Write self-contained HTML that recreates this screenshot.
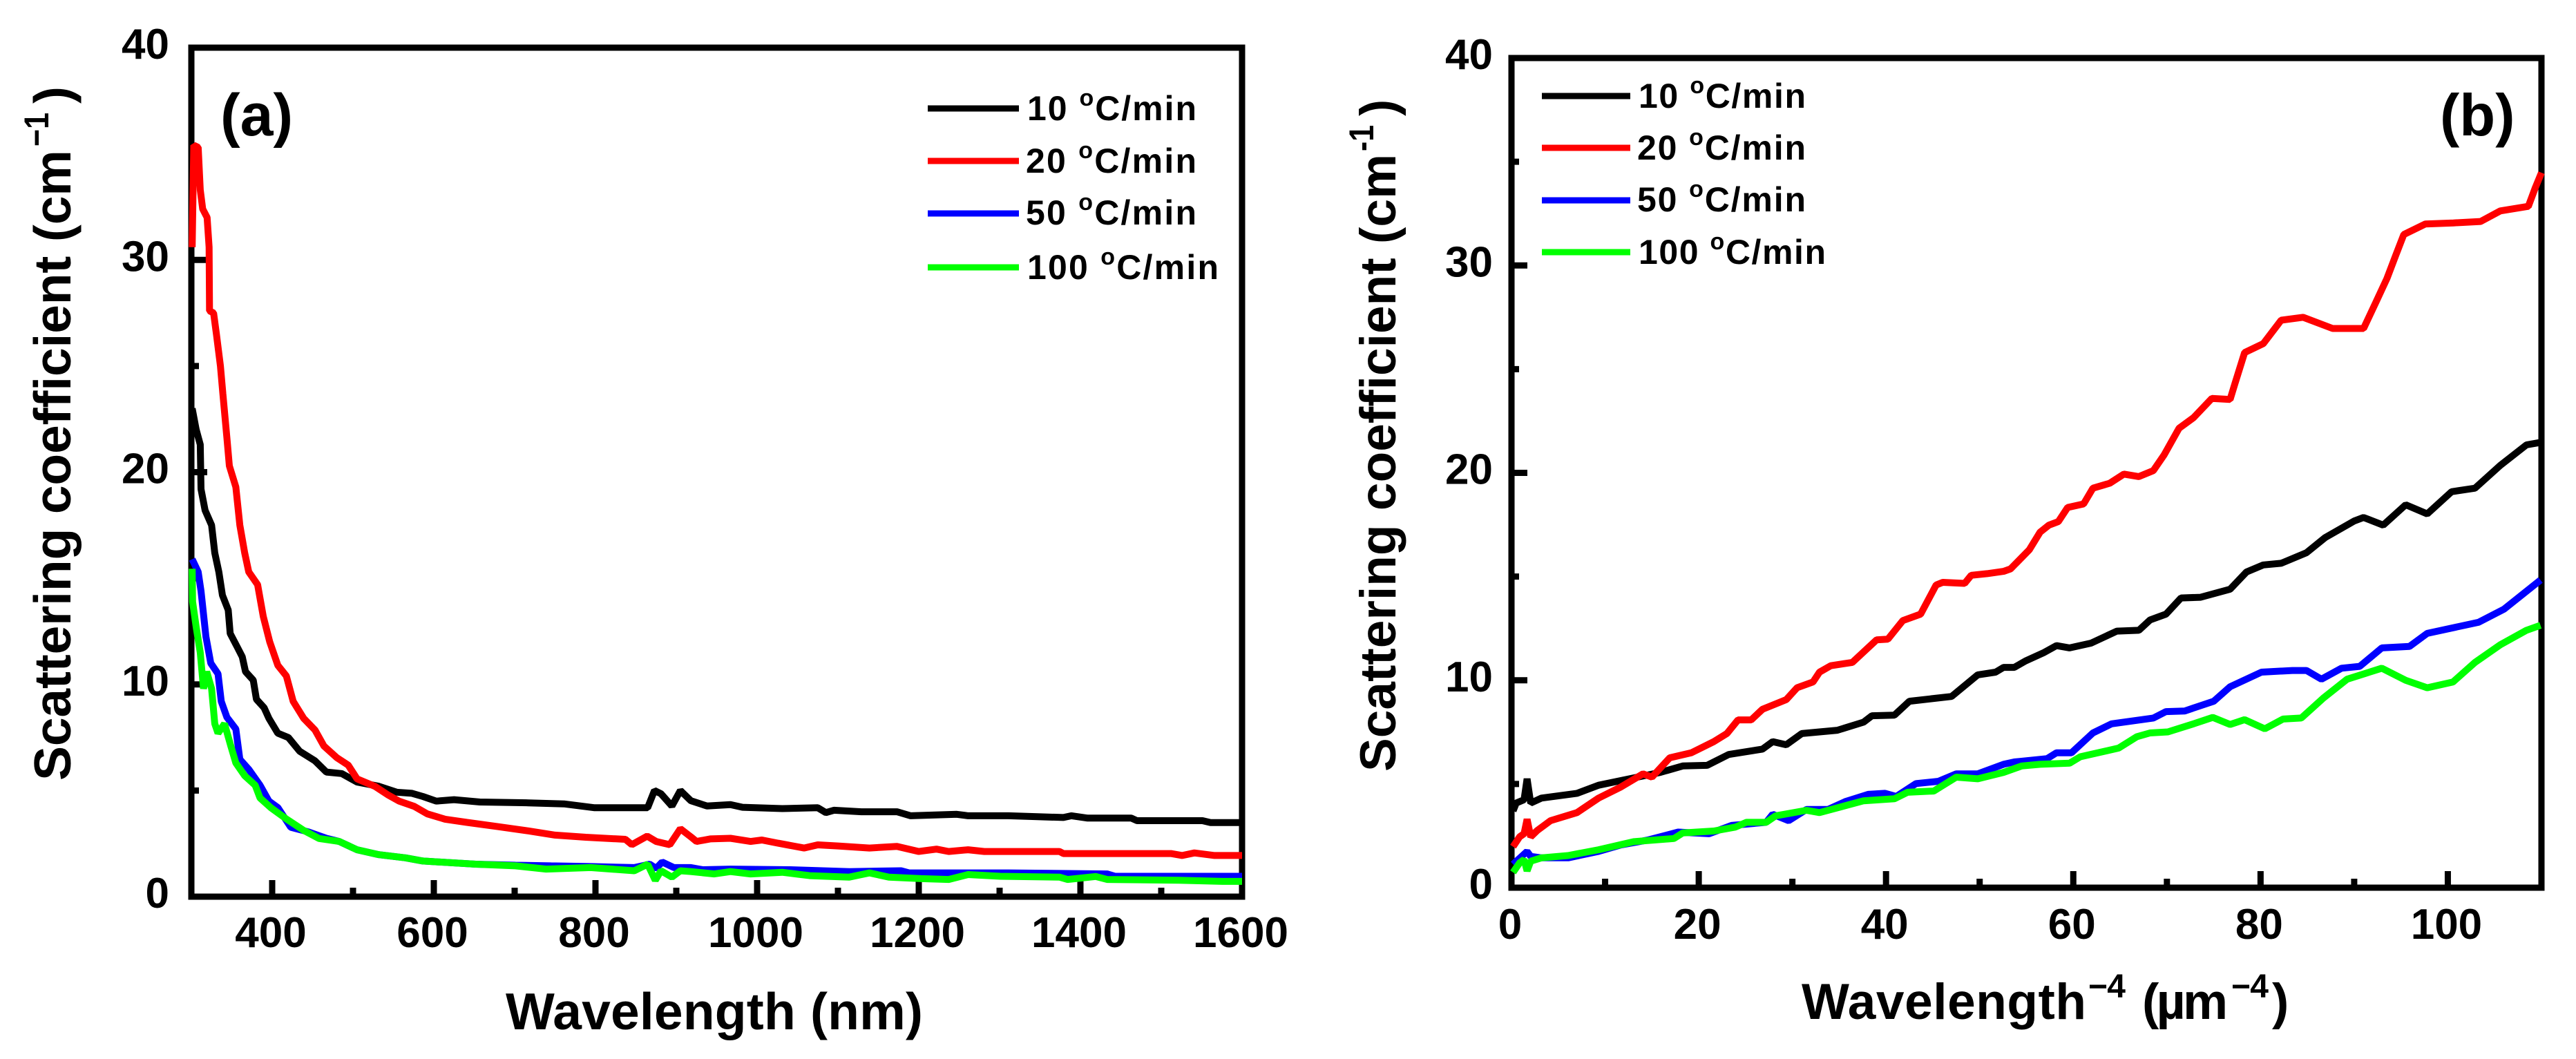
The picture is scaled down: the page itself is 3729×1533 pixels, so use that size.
<!DOCTYPE html>
<html>
<head>
<meta charset="utf-8">
<title>Scattering coefficient charts</title>
<style>
  html, body { margin: 0; padding: 0; background: #fff; }
  svg { display: block; }
  text { font-family: "Liberation Sans", sans-serif; font-weight: bold; fill: #000; }
</style>
</head>
<body>
<svg id="chart" xmlns="http://www.w3.org/2000/svg" width="3729" height="1533" viewBox="0 0 3729 1533">
  <rect width="3729" height="1533" fill="#fff"/>

  <g id="panel-a"></g>
  <g id="panel-b"></g>

  <!-- Panel a annotation -->
  <text x="319" y="196" font-size="86">(a)</text>
  <text transform="translate(102,1130) rotate(-90)" font-size="75" textLength="913">Scattering coefficient (cm</text>
  <text transform="translate(70,212) rotate(-90)" font-size="50" textLength="49" lengthAdjust="spacingAndGlyphs">−1</text>
  <text transform="translate(102,150) rotate(-90)" font-size="75">)</text>
  <text x="732" y="1490" font-size="75" textLength="604">Wavelength (nm)</text>

  <g>
    <line x1="1343" x2="1475" y1="157" y2="157" stroke="#000" stroke-width="9"/>
    <text x="1487" y="174" font-size="50" textLength="245">10 <tspan dy="-21" font-size="34">o</tspan><tspan dy="21">C/min</tspan></text>
    <line x1="1343" x2="1475" y1="233" y2="233" stroke="#f00" stroke-width="9"/>
    <text x="1485" y="250" font-size="50" textLength="247">20 <tspan dy="-21" font-size="34">o</tspan><tspan dy="21">C/min</tspan></text>
    <line x1="1343" x2="1475" y1="309" y2="309" stroke="#00f" stroke-width="9"/>
    <text x="1485" y="325" font-size="50" textLength="247">50 <tspan dy="-21" font-size="34">o</tspan><tspan dy="21">C/min</tspan></text>
    <line x1="1343" x2="1475" y1="387" y2="387" stroke="#0f0" stroke-width="9"/>
    <text x="1487" y="404" font-size="50" textLength="277">100 <tspan dy="-21" font-size="34">o</tspan><tspan dy="21">C/min</tspan></text>
  </g>

  <!-- Panel b annotation -->
  <text x="3532" y="196" font-size="85">(b)</text>
  <text transform="translate(2020,1117) rotate(-90)" font-size="73" textLength="894">Scattering coefficient (cm</text>
  <text transform="translate(1988,219) rotate(-90)" font-size="50" textLength="38" lengthAdjust="spacingAndGlyphs">-1</text>
  <text transform="translate(2020,168) rotate(-90)" font-size="73">)</text>
  <text x="2608" y="1475" font-size="73" textLength="412">Wavelength</text>
  <text x="3023" y="1444" font-size="48" textLength="54">−4</text>
  <text x="3101" y="1475" font-size="73" textLength="124">(µm</text>
  <text x="3230" y="1444" font-size="48" textLength="54">−4</text>
  <text x="3289" y="1475" font-size="73">)</text>

  <g>
    <line x1="2232" x2="2360" y1="139" y2="139" stroke="#000" stroke-width="9"/>
    <text x="2372" y="156" font-size="50" textLength="242">10 <tspan dy="-21" font-size="34">o</tspan><tspan dy="21">C/min</tspan></text>
    <line x1="2232" x2="2360" y1="214" y2="214" stroke="#f00" stroke-width="9"/>
    <text x="2370" y="231" font-size="50" textLength="244">20 <tspan dy="-21" font-size="34">o</tspan><tspan dy="21">C/min</tspan></text>
    <line x1="2232" x2="2360" y1="290" y2="290" stroke="#00f" stroke-width="9"/>
    <text x="2370" y="306" font-size="50" textLength="244">50 <tspan dy="-21" font-size="34">o</tspan><tspan dy="21">C/min</tspan></text>
    <line x1="2232" x2="2360" y1="365" y2="365" stroke="#0f0" stroke-width="9"/>
    <text x="2372" y="382" font-size="50" textLength="271">100 <tspan dy="-21" font-size="34">o</tspan><tspan dy="21">C/min</tspan></text>
  </g>
</svg>

<script>
// ---- tick values ----
const yMajorTicks = [0, 10, 20, 30, 40];
const yMinorTicks = [5, 15, 25, 35];
const aXMajorTicks = [400, 600, 800, 1000, 1200, 1400, 1600];
const aXMinorTicks = [500, 700, 900, 1100, 1300, 1500];
const bXMajorTicks = [0, 20, 40, 60, 80, 100];
const bXMinorTicks = [10, 30, 50, 70, 90];

// ---- panel (a): wavelength (nm) vs scattering coefficient ----
const a10Wave = [301,306,311,312,317,325,329,334,338.5,345.6,348,357.6,363,367,376.6,380.5,390,396,407,420,434,453,467,486,505,532,554,573,586.5,603,625,657,717,761,799,848,864.5,873,881,894.5,905,918,938,967,982,1031,1075,1085,1095,1129,1173,1190,1247,1261,1311,1379,1389,1409,1463,1470,1551,1561,1600];
const a10Value = [23,22,21.3,19.2,18.2,17.5,16.2,15.3,14.2,13.5,12.4,11.7,11.3,10.6,10.2,9.3,8.9,8.4,7.7,7.5,6.85,6.4,5.87,5.8,5.4,5.2,4.92,4.87,4.72,4.5,4.57,4.46,4.42,4.37,4.19,4.19,4.19,5,4.85,4.27,5,4.52,4.27,4.34,4.21,4.15,4.19,3.96,4.07,4,4,3.81,3.88,3.81,3.81,3.73,3.81,3.7,3.7,3.58,3.58,3.49,3.49];

const a20Wave = [301,303,308.5,311,314,319.5,322,322.5,327.5,331,336,339,344,347,355,360,366,371,382,389,397,407,417.5,426,439,453,464,480,494,505,527,543,557,576,592,614,641,679,717,750,788,837,845,864,875,892,905,918,925,942,967,992,1006,1026,1058,1075,1100,1139,1173,1200,1222,1237,1261,1281,1374,1379,1512,1526,1541,1566,1600];
const a20Value = [30.6,35.4,35.3,33.3,32.4,32,30.6,27.6,27.5,26.5,25,23.7,21.6,20.3,19.3,17.5,16.2,15.3,14.7,13.2,12,10.9,10.4,9.2,8.4,7.85,7.1,6.55,6.2,5.55,5.2,4.8,4.5,4.25,3.9,3.65,3.5,3.3,3.1,2.9,2.8,2.7,2.45,2.85,2.6,2.45,3.2,2.82,2.6,2.72,2.75,2.6,2.67,2.52,2.29,2.44,2.39,2.29,2.37,2.13,2.24,2.13,2.21,2.13,2.13,2.03,2.03,1.94,2.06,1.94,1.94];

const a50Wave = [301,308.5,312,318,324,333,337,344,355,360,371,385,396,407,423,445,467,483,505,532,565,586.5,652,701,745,794,848,867,875,882.5,897,918,933,967,1041,1114,1178,1188,1311,1433,1443,1600];
const a50Value = [15.9,15.3,14.4,12.25,11,10.5,9.2,8.45,7.9,6.47,6,5.25,4.5,4.2,3.27,3.05,2.75,2.6,2.21,1.98,1.83,1.68,1.53,1.48,1.45,1.42,1.37,1.53,1.33,1.63,1.37,1.37,1.27,1.3,1.27,1.18,1.22,1.12,1.12,1.07,0.96,0.96];

const a100Wave = [301,301.5,306,311,315,319,325,329,333,341,349,355,366,379,385,398.5,417.5,439,458,483,505,532,565,586.5,652,701,739,794,848,864.5,874,881,894.5,905,918,947,967,992,1031,1065,1114,1139,1163,1203,1237,1261,1301,1374,1384,1419,1433,1522,1576,1600];
const a100Value = [15.45,13.9,12.7,11.5,9.8,10.6,9.8,8.15,7.7,8.15,7.08,6.3,5.7,5.25,4.65,4.19,3.66,3.12,2.74,2.6,2.21,1.98,1.83,1.68,1.53,1.45,1.3,1.37,1.22,1.53,0.77,1.22,0.92,1.22,1.18,1.07,1.18,1.07,1.15,0.99,0.92,1.12,0.92,0.85,0.81,1.04,0.96,0.92,0.81,0.95,0.81,0.77,0.72,0.72];

// ---- panel (b): wavelength^-4 vs scattering coefficient ----
const b10Wave = [0.17,0.5,1.34,1.67,2.05,3.2,7,9.3,12.6,15.9,18.3,20.9,23.2,26.8,27.9,29.35,31,34.8,37.6,38.5,40.9,42.5,47,49.8,51.7,52.55,53.7,54.9,56.8,58.2,59.6,61.9,64.65,67,68.2,69.9,71.5,73.6,76.75,78.5,80.3,82.2,84.9,86.9,90,91,93.1,95.5,97.8,100.4,102.9,105.6,108.4,109.9];
const b10Value = [3.7,4.08,4.24,5.25,4.08,4.32,4.55,4.94,5.25,5.56,5.87,5.9,6.42,6.68,7.04,6.89,7.43,7.59,7.98,8.29,8.32,8.99,9.22,10.26,10.39,10.62,10.62,10.93,11.32,11.67,11.56,11.79,12.37,12.41,12.91,13.19,13.97,14,14.39,15.22,15.56,15.64,16.15,16.88,17.68,17.85,17.48,18.46,18.02,19.09,19.26,20.36,21.35,21.47];

const b20Wave = [0.17,0.87,1.34,1.67,2.05,2.76,4.17,7,9.3,11.7,14.05,15,16.9,19.2,21.6,23,24.2,25.6,26.8,29.35,30.5,32.2,32.9,34.1,36.4,39,40.2,41.8,43.7,45.35,46.06,48.4,49.1,50.8,52.55,53.3,55.3,56.45,57.4,58.4,59.4,61.1,62.1,63.9,65.4,67,68.55,69.7,71.3,72.85,74.8,76.75,77.3,78.3,80.3,82.2,84.55,87.7,91,92.35,93.5,94.5,95.3,97.6,100.6,103.5,105.6,108.6,109.3,110];
const b20Value = [1.98,2.45,2.6,3.3,2.45,2.76,3.23,3.62,4.32,4.86,5.49,5.33,6.26,6.5,7.04,7.43,8.09,8.09,8.6,9.07,9.64,9.92,10.39,10.7,10.86,11.95,11.98,12.88,13.19,14.59,14.72,14.67,15.06,15.14,15.25,15.37,16.29,17.14,17.48,17.65,18.33,18.5,19.26,19.5,19.94,19.82,20.11,20.87,22.15,22.66,23.59,23.54,24.36,25.8,26.23,27.36,27.5,26.96,26.96,28.26,29.37,30.56,31.49,32,32.05,32.12,32.63,32.85,33.7,34.47];

const b50Wave = [0.17,1.67,2.05,3.2,6.05,9.3,11.7,14.5,17.8,21.1,23.5,27.2,27.9,29.6,31.5,33.8,35.7,38.1,39.9,41.1,43.2,45.6,47.5,49.8,52.55,53.7,57.2,58.2,59.8,62.1,64.1,68.55,69.9,71.9,75,76.75,80.1,83.4,84.9,86.5,88.65,90.6,92.95,95.9,97.8,103.3,106,109.9];
const b50Value = [1.13,1.75,1.51,1.44,1.44,1.75,2.06,2.29,2.68,2.6,3,3.15,3.54,3.23,3.77,3.77,4.16,4.5,4.55,4.4,5.02,5.13,5.49,5.49,5.95,6.06,6.22,6.5,6.5,7.46,7.9,8.18,8.49,8.52,8.99,9.69,10.39,10.47,10.47,10.05,10.58,10.67,11.56,11.63,12.26,12.8,13.43,14.83];

const b100Wave = [0.17,0.87,1.34,1.67,2.05,3.2,6.05,9.3,13.1,17.35,18.3,21.6,23.9,25.1,27.2,28.2,31.5,32.9,34.8,37.6,40.9,42.3,45.1,47.5,49.8,52.55,54.5,56.45,59.6,60.75,64.85,66.8,68.2,70.1,72.85,74.9,76.75,78.3,80.45,82.4,84.35,86.7,89.25,92.95,95.5,97.8,100.55,102.9,105.6,108.4,109.9];
const b100Value = [0.74,1.2,1.36,0.81,1.28,1.44,1.55,1.83,2.22,2.37,2.64,2.73,2.92,3.15,3.15,3.46,3.73,3.62,3.85,4.19,4.29,4.6,4.66,5.33,5.25,5.56,5.87,5.95,6,6.31,6.73,7.28,7.46,7.51,7.9,8.21,7.87,8.1,7.66,8.13,8.18,9.14,10.05,10.58,10,9.64,9.92,10.86,11.71,12.41,12.65];

const NS = 'http://www.w3.org/2000/svg';

function makeAxis(d0, d1, p0, p1) {
  return function (v) { return p0 + (v - d0) * (p1 - p0) / (d1 - d0); };
}

function addLine(parent, x1, y1, x2, y2, color, name) {
  const el = document.createElementNS(NS, 'line');
  el.setAttribute('x1', x1);
  el.setAttribute('y1', y1);
  el.setAttribute('x2', x2);
  el.setAttribute('y2', y2);
  el.setAttribute('stroke', color);
  el.setAttribute('stroke-width', '9');
  
  
  parent.appendChild(el);
}

function addLabel(parent, x, y, str, anchor, size, name) {
  const el = document.createElementNS(NS, 'text');
  el.setAttribute('x', x);
  el.setAttribute('y', y);
  el.setAttribute('text-anchor', anchor);
  el.setAttribute('font-size', size);
  el.textContent = str;
  
  
  parent.appendChild(el);
}

function addSeries(parent, xs, ys, sx, sy, color, name) {
  const pts = xs.map(function (x, i) { return sx(x).toFixed(1) + ',' + sy(ys[i]).toFixed(1); }).join(' ');
  const el = document.createElementNS(NS, 'polyline');
  el.setAttribute('points', pts);
  el.setAttribute('fill', 'none');
  el.setAttribute('stroke', color);
  el.setAttribute('stroke-width', '10');
  el.setAttribute('stroke-linejoin', 'bevel');
  
  
  parent.appendChild(el);
}

function drawFrame(parent, left, right, top, bottom, prefix) {
  const el = document.createElementNS(NS, 'rect');
  el.setAttribute('x', left);
  el.setAttribute('y', top);
  el.setAttribute('width', right - left);
  el.setAttribute('height', bottom - top);
  el.setAttribute('fill', 'none');
  el.setAttribute('stroke', '#000');
  el.setAttribute('stroke-width', '9');
  
  
  parent.appendChild(el);
}

function drawAxes(parent, cfg) {
  const sx = cfg.sx, sy = cfg.sy;
  drawFrame(parent, cfg.left, cfg.right, cfg.top, cfg.bottom, cfg.prefix);
  cfg.xMajor.forEach(function (v) {
    addLine(parent, sx(v), cfg.bottom, sx(v), cfg.bottom - 24, '#000', cfg.prefix + '-x-tick');
    addLabel(parent, sx(v) - 2, cfg.xLabelY, String(v), 'middle', 62, cfg.prefix + '-x-tick-label');
  });
  cfg.xMinor.forEach(function (v) {
    addLine(parent, sx(v), cfg.bottom, sx(v), cfg.bottom - 13, '#000', cfg.prefix + '-x-minor-tick');
  });
  yMajorTicks.forEach(function (v) {
    addLine(parent, cfg.left, sy(v), cfg.left + 23, sy(v), '#000', cfg.prefix + '-y-tick');
    addLabel(parent, cfg.yLabelX, sy(v) + 16, String(v), 'end', 62, cfg.prefix + '-y-tick-label');
  });
  yMinorTicks.forEach(function (v) {
    addLine(parent, cfg.left, sy(v), cfg.left + 11, sy(v), '#000', cfg.prefix + '-y-minor-tick');
  });
}

// Panel (a)
const panelA = document.getElementById('panel-a');
const ax = makeAxis(300, 1600, 277, 1798);
const ay = makeAxis(0, 40, 1298, 69);
drawAxes(panelA, { sx: ax, sy: ay, left: 277, right: 1798, top: 69, bottom: 1298, xMajor: aXMajorTicks, xMinor: aXMinorTicks, xLabelY: 1371, yLabelX: 245, prefix: 'panel-a' });
addSeries(panelA, a10Wave, a10Value, ax, ay, '#000', 'panel-a-series-10');
addSeries(panelA, a20Wave, a20Value, ax, ay, '#f00', 'panel-a-series-20');
addSeries(panelA, a50Wave, a50Value, ax, ay, '#00f', 'panel-a-series-50');
addSeries(panelA, a100Wave, a100Value, ax, ay, '#0f0', 'panel-a-series-100');

// Panel (b)
const panelB = document.getElementById('panel-b');
const bx = makeAxis(0, 110, 2188, 3679);
const by = makeAxis(0, 40, 1285, 84);
drawAxes(panelB, { sx: bx, sy: by, left: 2188, right: 3679, top: 84, bottom: 1285, xMajor: bXMajorTicks, xMinor: bXMinorTicks, xLabelY: 1359, yLabelX: 2161, prefix: 'panel-b' });
addSeries(panelB, b10Wave, b10Value, bx, by, '#000', 'panel-b-series-10');
addSeries(panelB, b20Wave, b20Value, bx, by, '#f00', 'panel-b-series-20');
addSeries(panelB, b50Wave, b50Value, bx, by, '#00f', 'panel-b-series-50');
addSeries(panelB, b100Wave, b100Value, bx, by, '#0f0', 'panel-b-series-100');
</script>
</body>
</html>
